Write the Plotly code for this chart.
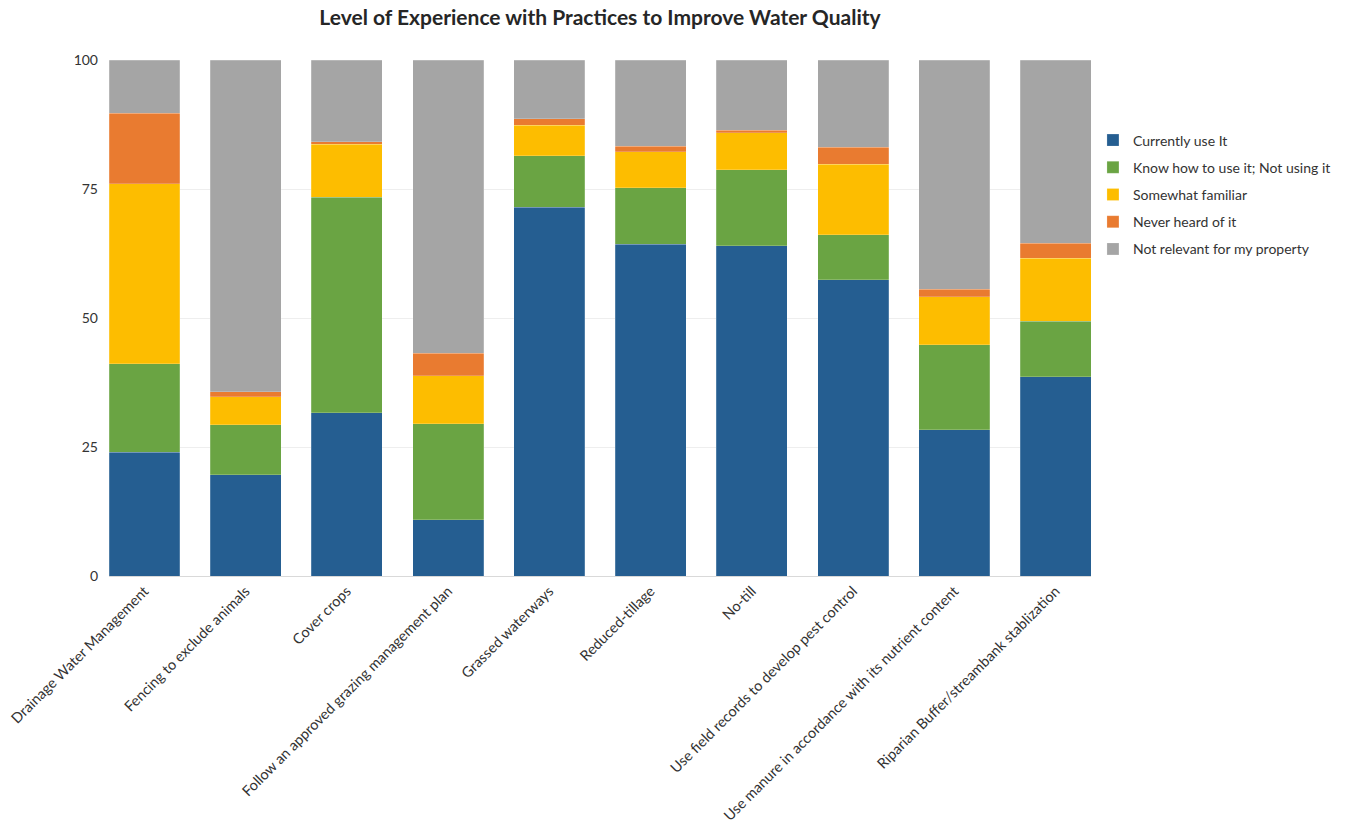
import plotly.graph_objects as go

categories = [
    "Drainage Water Management",
    "Fencing to exclude animals",
    "Cover crops",
    "Follow an approved grazing management plan",
    "Grassed waterways",
    "Reduced-tillage",
    "No-till",
    "Use field records to develop pest control",
    "Use manure in accordance with its nutrient content",
    "Riparian Buffer/streambank stablization",
]

currently_use = [24.0, 19.6, 31.6, 10.9, 71.5, 64.3, 64.0, 57.4, 28.3, 38.6]
know_how = [17.1, 9.7, 41.8, 18.6, 9.9, 10.9, 14.7, 8.7, 16.5, 10.8]
somewhat = [34.9, 5.4, 10.3, 9.3, 6.0, 7.0, 7.2, 13.7, 9.3, 12.2]
never_heard = [13.7, 1.0, 0.5, 4.4, 1.2, 1.1, 0.5, 3.3, 1.5, 2.9]
not_relevant = [10.3, 64.3, 15.8, 56.8, 11.4, 16.7, 13.6, 16.9, 44.4, 35.5]

series_names = [
    "Currently use It",
    "Know how to use it; Not using it",
    "Somewhat familiar",
    "Never heard of it",
    "Not relevant for my property",
]
series_values = [currently_use, know_how, somewhat, never_heard, not_relevant]
colors = ["#255E91", "#6AA443", "#FDBD00", "#E97B30", "#A5A5A5"]

y_ticks = [0, 25, 50, 75, 100]

FONT = "Lato, Calibri, Carlito, sans-serif"

W, H = 1345, 829
L, T = 109, 60
PR, PB = 1091, 576  # plot right / bottom in figure coords

fig = go.Figure()
for name, vals, col in zip(series_names, series_values, colors):
    fig.add_trace(go.Bar(
        x=categories, y=vals, name=name, legendgroup=name,
        marker=dict(color=col, line=dict(width=0.5, color="rgba(255,255,255,0.4)")),
        width=0.7,
    ))

fig.update_layout(
    barmode="stack",
    width=W, height=H,
    paper_bgcolor="white", plot_bgcolor="white",
    margin=dict(l=L, r=W - PR, t=T, b=H - PB, autoexpand=False),
    font=dict(family=FONT, size=14, color="#333333"),
    title=dict(
        text="<b>Level of Experience with Practices to Improve Water Quality</b>",
        x=(L + PR) / 2 / W, xanchor="center",
        y=1 - 18 / H, yanchor="middle",
        font=dict(family=FONT, size=21, color="#262626"),
    ),
    legend=dict(
        x=1.002, xanchor="left", y=0.875, yanchor="top",
        traceorder="grouped",
        font=dict(family=FONT, size=14, color="#333333"),
        itemwidth=30,
        tracegroupgap=6,
    ),
    xaxis=dict(
        type="category",
        range=[-0.35, 9.35],
        tickangle=-45,
        automargin=False,
        showgrid=False,
        showline=True, linecolor="#D9D9D9", linewidth=1,
        ticks="",
        tickfont=dict(family=FONT, size=14.5, color="#333333"),
    ),
    yaxis=dict(
        range=[0, 100],
        automargin=False,
        tickvals=y_ticks,
        ticktext=[str(v) for v in y_ticks],
        showgrid=True, gridcolor="#EEEEEE", gridwidth=1,
        zeroline=False,
        showline=False,
        ticks="",
        ticklabelstandoff=10,
        tickfont=dict(family=FONT, size=14, color="#333333"),
    ),
    bargap=0.3,
)

fig.write_html(
    "out.html",
    config={"displayModeBar": False},
    post_script="document.body.style.margin='0';document.body.style.overflow='hidden';",
)
